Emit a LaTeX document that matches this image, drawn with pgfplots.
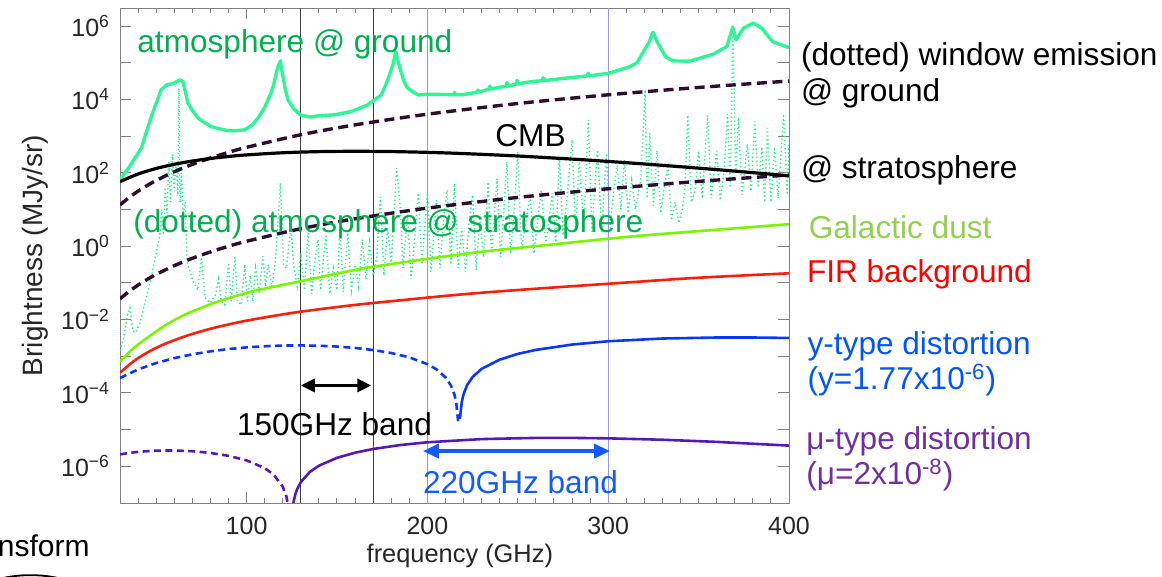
\documentclass[border=0pt]{standalone}
\usepackage{pgfplots}
\pgfplotsset{compat=1.18}
\usepackage{fontspec}
\setmainfont{Liberation Sans}
\usetikzlibrary{arrows.meta}

\definecolor{atmgreen}{RGB}{46,245,150}
\definecolor{stratgreen}{RGB}{40,240,140}
\definecolor{window}{RGB}{45,15,45}
\definecolor{dust}{RGB}{120,245,0}
\definecolor{fir}{RGB}{255,30,10}
\definecolor{ytype}{RGB}{10,55,255}
\definecolor{mutype}{RGB}{85,25,185}
\definecolor{txtgreen}{RGB}{0,176,80}
\definecolor{dustlab}{RGB}{146,208,80}
\definecolor{ylab}{RGB}{0,85,255}
\definecolor{mulab}{RGB}{112,48,160}
\definecolor{bandblue}{RGB}{20,90,255}
\definecolor{vblue}{RGB}{150,150,240}

\newcommand\lab{\fontsize{15.8}{19}\selectfont}

\begin{document}
\begin{tikzpicture}
\useasboundingbox (0,0) rectangle (581pt,288.5pt);
\begin{axis}[
    at={(60pt,37pt)}, anchor=south west,
    scale only axis, width=334.5pt, height=247.5pt,
    xmin=30, xmax=400,
    ymode=log, ymin=1e-7, ymax=3.1e6,
    xtick={100,200,300,400},
    minor xtick={40,50,...,390},
    ytick={1e-6,1e-4,1e-2,1,1e2,1e4,1e6},
    yticklabels={10\textsuperscript{−6},10\textsuperscript{−4},10\textsuperscript{−2},10\textsuperscript{0},10\textsuperscript{2},10\textsuperscript{4},10\textsuperscript{6}},
    extra y ticks={1e-5,1e-3,1e-1,1e1,1e3,1e5},
    extra y tick labels={},
    yminorticks=false,
    major tick length=5.5pt, minor tick length=2.5pt,
    tick align=inside,
    axis line style={black!50},
    every tick/.style={black!50, line width=0.5pt},
    /pgf/number format/assume math mode=true,
    tick label style={font=\fontsize{12.5}{14}\selectfont, black!85},
    xticklabel style={yshift=-3.5pt},
    yticklabel style={xshift=-1.5pt},
    xlabel={frequency (GHz)},
    ylabel={Brightness (MJy/sr)},
    xlabel style={font=\fontsize{12.7}{15}\selectfont, black!85, at={(axis description cs:0.508,-0.107)}, anchor=center},
    ylabel style={font=\fontsize{14}{16}\selectfont, black!85, at={(axis description cs:-0.127,0.5)}, anchor=center},
]
% band edges
\addplot[black!75, line width=0.6pt] coordinates {(130,1e-7)(130,3.1e6)};
\addplot[black!75, line width=0.6pt] coordinates {(170,1e-7)(170,3.1e6)};
\addplot[vblue, line width=0.6pt] coordinates {(200,1e-7)(200,3.1e6)};
\addplot[vblue, line width=0.6pt] coordinates {(300,1e-7)(300,3.1e6)};

% atmosphere @ stratosphere (dotted)
\addplot[stratgreen, line width=0.7pt, dash pattern=on 0.7pt off 1.3pt] coordinates {
(30,1.41e-3)(32,3.16e-3)(34,1.26e-2)(35.5,2.09e-2)(37,5.01e-3)(38.5,4.37e-3)(41,7.94e-3)(44,3.16e-2)(47,0.126)(50,0.631)(52,2.0)(53,10)(54,2.0)(55,39.8)(56,7.94)(57,200)(58,15.8)(59,316)(60,31.6)(61,200)(62,25.1)(62.6,2.0e4)(63.2,15.8)(64,100)(65,6.31)(66,15.8)(67,0.398)(70,0.126)(73,0.0631)(75,0.501)(77,0.0398)(80,0.0282)(83,0.0501)(84.5,0.126)(86,0.0316)(88,0.0251)(90,0.355)(91.5,0.0316)(93.6,0.501)(95,0.0316)(97,0.0251)(99,0.316)(100.5,0.0316)(102,0.158)(103.5,0.0316)(105,0.251)(107,0.0501)(109,0.537)(110.5,0.0794)(112,0.316)(114,0.0794)(116,0.398)(118.7,52.5)(120.5,0.316)(122,0.251)(124.6,3.47)(126,0.316)(128,0.0794)(130,0.631)(132,0.0631)(134,2.29)(136,0.0501)(137.5,0.316)(139.5,1.51)(141,0.0631)(142.5,0.501)(144,1.86)(146,0.0501)(148,0.251)(150,0.0631)(151.7,3.47)(153.5,0.0562)(156,2.29)(158,0.0631)(160,0.316)(162,0.0794)(164,1.51)(166,0.126)(168,1.26)(170,0.158)(172,0.501)(174,21.9)(176,0.158)(178,3.16)(180,0.316)(183,135)(185,11.5)(186.5,0.251)(189,7.41)(191,0.126)(193,1.58)(195,28.2)(197,0.316)(200,28.2)(202,0.2)(205,17.8)(207,0.251)(209,6.31)(211,33.9)(213,0.316)(215,51.3)(217,0.251)(219,3.16)(221,0.2)(223,3.98)(225,25.1)(227,0.224)(229,6.31)(231,0.501)(233.6,56.2)(235.5,0.631)(238.5,69.2)(240.5,0.501)(242,6.31)(244,200)(246,0.631)(248,10)(250,372)(252,0.794)(254,3.16)(256.8,25.1)(259,0.631)(261,5.01)(263,33.9)(265.5,1.26)(267,3.98)(269,28.2)(271,1.26)(273,269)(275,2.0)(277,15.8)(280,794)(282,2.51)(284,224)(286.5,3.16)(289,2754)(291,2.51)(294,417)(296.5,2.51)(299,339)(301,3.16)(303,31.6)(305,158)(307,10)(309,224)(311,7.94)(313,63.1)(315,10)(318,63.1)(320.4,1.82e4)(321.5,20)(323,1202)(325,12.6)(327,398)(329,7.94)(331,39.8)(333,145)(335,5.01)(337,15.8)(339,4.27)(341,10)(342.5,39.8)(344,3715)(346,15.8)(348,31.6)(350,398)(352,20)(355,3715)(357,20)(360,398)(362,17.8)(364,100)(366,3981)(367.5,39.8)(369,9.33e5)(370.5,100)(372,3162)(374,25.1)(377,603)(379,31.6)(381,2512)(383,39.8)(385,501)(386.5,15.8)(388,1660)(390,15.8)(392,501)(394,20)(397,3981)(399,25.1)(400,603)};

% atmosphere @ ground
\addplot[atmgreen, line width=1.7pt, line join=round] coordinates {
(30,63)(35,141)(41.8,468)(47.3,3390)(52.8,1.82e4)(55.6,2.45e4)(58,2.6e4)(60,2.8e4)(63,3.39e4)(64.8,3.09e4)(66.2,1.6e4)(67.6,7940)(70,5000)(73,3160)(76,2450)(80.3,1820)(85,1580)(89.7,1410)(94,1410)(99,1480)(103,2000)(106.4,3090)(110,6000)(113.5,1.48e4)(115,2.5e4)(116.8,6.31e4)(118.7,1.12e5)(119.5,6.3e4)(120.5,3.39e4)(121.5,1.8e4)(123,9550)(126,5600)(130,3720)(135,3310)(139.5,3550)(148.7,3800)(158,4680)(167,7080)(174.5,1.32e4)(177,2.5e4)(179,4.57e4)(181,8.9e4)(182.5,2.0e5)(184,1.0e5)(185.6,5.25e4)(187,3.2e4)(189,2.04e4)(192,1.6e4)(195,1.32e4)(200,1.38e4)(214.6,1.35e4)(215,1.55e4)(215.4,1.35e4)(220,1.35e4)(227.6,1.58e4)(228,1.8e4)(228.4,1.58e4)(234.2,1.91e4)(234.6,2.3e4)(235,1.91e4)(238.5,2.09e4)(243.6,2.29e4)(244,2.9e4)(244.4,2.29e4)(249.2,2.63e4)(249.6,3.3e4)(250,2.63e4)(256.8,3.02e4)(263.6,3.24e4)(264,3.9e4)(264.4,3.24e4)(275,3.72e4)(288.5,4.37e4)(288.9,5.2e4)(289.3,4.37e4)(300,5.13e4)(312,7.76e4)(316,1.0e5)(319,1.82e5)(322.5,3.5e5)(324.8,6.76e5)(327,3.8e5)(329.6,2.24e5)(332,1.4e5)(336,1.12e5)(345,1.10e5)(358,1.70e5)(365.6,2.75e5)(368.9,9.33e5)(370.7,4.17e5)(374.8,8.71e5)(380.3,1.20e6)(385,8.71e5)(391,3.72e5)(400,2.57e5)};

% window emission @ ground and @ stratosphere
\addplot[window, line width=1.7pt, dash pattern=on 5pt off 2.8pt, smooth] coordinates {
(30,13.3)(35,21.2)(40,31.6)(45,45.0)(50,61.8)(60,106.7)(70,169.4)(80,253)(90,360)(100,494)(130,1087)(160,2023)(200,3954)(250,7727)(300,13340)(350,21180)(400,31620)};
\addplot[window, line width=1.7pt, dash pattern=on 5pt off 2.8pt, smooth] coordinates {
(30,0.0367)(35,0.0583)(40,0.0871)(45,0.124)(50,0.170)(60,0.294)(70,0.467)(80,0.697)(90,0.991)(100,1.36)(130,2.99)(160,5.57)(200,10.9)(250,21.3)(300,36.7)(350,58.3)(400,87.1)};

% CMB
\addplot[black, line width=1.6pt, smooth] coordinates {
(30,57.4)(40,92.6)(50,131.0)(60,170.3)(70,208.8)(80,245.1)(90,278.1)(100,307.0)(120,351.4)(140,377.0)(160,385.1)(180,378.4)(200,360.2)(220,334.1)(250,286.5)(280,236.1)(300,203.8)(320,173.6)(350,133.8)(380,100.9)(400,82.6)};

% Galactic dust
\addplot[dust, line width=1.3pt, smooth] coordinates {
(30,7.08e-4)(38,1.74e-3)(47.3,3.80e-3)(56,7.41e-3)(65.8,1.35e-2)(75,2.09e-2)(84.2,3.09e-2)(102.6,5.75e-2)(128.5,0.107)(150,0.178)(170,0.275)(223.6,0.646)(260,1.0)(312,1.82)(350,2.57)(400,3.98)};

% FIR background
\addplot[fir, line width=1.3pt, smooth] coordinates {
(30,3.55e-4)(38,7.59e-4)(47.3,1.45e-3)(56,2.29e-3)(65.8,3.47e-3)(75,4.79e-3)(84.2,6.31e-3)(100,9.33e-3)(125,1.51e-2)(150,2.19e-2)(170,2.82e-2)(220,4.90e-2)(260,6.92e-2)(310,0.102)(350,0.138)(400,0.182)};

% y-type distortion: negative part dashed, positive part solid
\addplot[ytype, line width=1.3pt, dash pattern=on 3.5pt off 2.2pt] coordinates {
(30,2.55e-4)(40,4.38e-4)(50,6.53e-4)(60,8.87e-4)(70,1.127e-3)(80,1.357e-3)(90,1.569e-3)(100,1.743e-3)(110,1.876e-3)(120,1.953e-3)(130,1.974e-3)(140,1.935e-3)(150,1.838e-3)(160,1.682e-3)(170,1.476e-3)(180,1.224e-3)(190,9.33e-4)(200,6.08e-4)(205,4.40e-4)(210,2.67e-4)(213,1.60e-4)(215,8.9e-5)(216,5.3e-5)(217,1.68e-5)};
\addplot[ytype, line width=1.3pt] coordinates {
(218,1.97e-5)(219,5.6e-5)(220,9.22e-5)(222,1.65e-4)(225,2.72e-4)(230,4.53e-4)(240,8.08e-4)(250,1.159e-3)(260,1.488e-3)(280,2.08e-3)(300,2.56e-3)(330,3.04e-3)(360,3.24e-3)(380,3.24e-3)(400,3.15e-3)};

% mu-type distortion
\addplot[mutype, line width=1.3pt, dash pattern=on 3.5pt off 2.2pt] coordinates {
(30,2.12e-6)(40,2.484e-6)(50,2.675e-6)(60,2.702e-6)(70,2.577e-6)(80,2.313e-6)(90,1.932e-6)(100,1.452e-6)(110,8.95e-7)(115,5.93e-7)(120,2.80e-7)(122,1.52e-7)(123,8.7e-8)};
\addplot[mutype, line width=1.3pt] coordinates {
(125,4.3e-8)(126,1.08e-7)(127,1.74e-7)(128,2.39e-7)(130,3.71e-7)(135,7.03e-7)(140,1.037e-6)(150,1.702e-6)(160,2.349e-6)(170,2.963e-6)(185,3.80e-6)(200,4.517e-6)(230,5.517e-6)(260,5.947e-6)(280,5.953e-6)(300,5.785e-6)(330,5.298e-6)(360,4.632e-6)(400,3.667e-6)};

% band arrows
\addplot[black, line width=1.7pt, arrows={Triangle[length=7pt,width=6.5pt]-Triangle[length=7pt,width=6.5pt]}] coordinates {(130,1.6e-4)(169,1.6e-4)};
\addplot[bandblue, line width=2pt, arrows={Triangle[length=8pt,width=7pt]-Triangle[length=8pt,width=7pt]}] coordinates {(197.5,2.6e-6)(301,2.6e-6)};
\end{axis}

% annotations
\begin{scope}[every node/.style={inner sep=0pt, anchor=base west, font=\lab}]
\node[text=txtgreen] at (68.5pt,262pt) {atmosphere @ ground};
\node[text=txtgreen] at (66.5pt,172pt) {(dotted) atmosphere @ stratosphere};
\node at (247.5pt,215.2pt) {CMB};
\node at (118.3pt,70.5pt) {150GHz band};
\node[text=bandblue] at (211.3pt,41.9pt) {220GHz band};
\node at (400.3pt,255.5pt) {(dotted) window emission};
\node at (400.3pt,237.5pt) {@ ground};
\node at (400.3pt,199pt) {@ stratosphere};
\node[text=dustlab] at (404.2pt,169pt) {Galactic dust};
\node[text=red] at (403.3pt,147pt) {FIR background};
\node[text=ylab] at (403.6pt,111pt) {y-type distortion};
\node[text=ylab] at (403.6pt,93.5pt) {(y=1.77x10\textsuperscript{-6})};
\node[text=mulab] at (403pt,63.5pt) {μ-type distortion};
\node[text=mulab] at (403pt,46pt) {(μ=2x10\textsuperscript{-8})};
\node[anchor=base east, font=\fontsize{15}{18}\selectfont] at (45pt,10pt) {Transform};
\end{scope}
\draw[line width=0.9pt] (-2pt,-1.5pt) .. controls (8pt,1.8pt) and (24pt,1.8pt) .. (34pt,-2pt);
\end{tikzpicture}
\end{document}
